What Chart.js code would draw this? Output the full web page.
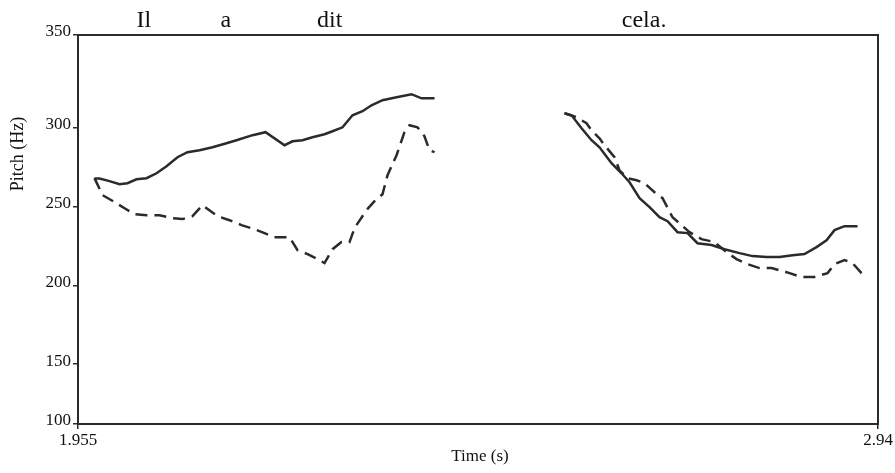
<!DOCTYPE html>
<html>
<head>
<meta charset="utf-8">
<script src="https://cdn.jsdelivr.net/npm/chart.js@4.4.1/dist/chart.umd.min.js"></script>
<style>
  body { margin: 0; background: #fff; }
  canvas { display: block; }
</style>
</head>
<body>
<canvas id="pitchChart" width="895" height="473"></canvas>
<script>
// words of the utterance and where they sit in time
const words = ["Il", "a", "dit", "cela."];
const wordTimes = [2.036, 2.137, 2.265, 2.652];

// solid contour, first and second voiced stretch
const solidTimeA = [1.9753, 1.9815, 1.9938, 2.0061, 2.0159, 2.0270, 2.0393, 2.0517, 2.0640, 2.0775, 2.0898, 2.1046, 2.1206, 2.1378, 2.1502, 2.1699, 2.1859, 2.2093, 2.2191, 2.2314, 2.2437, 2.2585, 2.2684, 2.2807, 2.2930, 2.3053, 2.3164, 2.3299, 2.3472, 2.3656, 2.3779, 2.3940];
const solidPitchA = [267.9, 267.9, 266.2, 264.3, 264.9, 267.4, 268.1, 271.2, 275.7, 281.4, 284.6, 285.8, 287.7, 290.3, 292.2, 295.4, 297.3, 289.0, 291.5, 292.2, 294.1, 296.0, 297.9, 300.4, 308.0, 310.6, 314.4, 317.6, 319.5, 321.4, 318.8, 318.8];
const solidTimeB = [2.5540, 2.5627, 2.5750, 2.5873, 2.5971, 2.6119, 2.6242, 2.6341, 2.6464, 2.6587, 2.6710, 2.6809, 2.6932, 2.7055, 2.7178, 2.7350, 2.7510, 2.7695, 2.7855, 2.8028, 2.8188, 2.8348, 2.8495, 2.8643, 2.8766, 2.8865, 2.8988, 2.9148];
const solidPitchB = [309.3, 308.0, 299.8, 292.2, 287.7, 277.6, 271.2, 265.5, 255.4, 249.7, 243.3, 240.8, 233.8, 233.2, 226.8, 225.6, 223.0, 220.5, 218.6, 218.0, 218.0, 219.2, 219.9, 224.3, 228.7, 235.1, 237.6, 237.6];

// dashed contour
const dashedTimeA = [1.9753, 1.9852, 1.9962, 2.0123, 2.0246, 2.0393, 2.0553, 2.0714, 2.0837, 2.0960, 2.1083, 2.1268, 2.1415, 2.1563, 2.1723, 2.1846, 2.1969, 2.2154, 2.2253, 2.2376, 2.2499, 2.2585, 2.2684, 2.2794, 2.2893, 2.2955, 2.3102, 2.3201, 2.3299, 2.3361, 2.3472, 2.3570, 2.3632, 2.3730, 2.3816, 2.3878, 2.3940];
const dashedPitchA = [268.1, 257.3, 254.1, 249.0, 245.2, 244.6, 244.6, 242.7, 242.1, 244.0, 250.9, 244.0, 241.4, 238.3, 235.7, 233.2, 230.6, 230.6, 222.4, 219.9, 216.7, 214.2, 223.0, 227.5, 227.5, 236.4, 247.8, 253.5, 257.9, 270.0, 282.7, 297.3, 301.7, 300.4, 294.7, 285.8, 284.6];
const dashedTimeB = [2.5540, 2.5688, 2.5811, 2.5873, 2.5971, 2.6033, 2.6156, 2.6217, 2.6316, 2.6427, 2.6525, 2.6648, 2.6747, 2.6870, 2.6981, 2.7079, 2.7227, 2.7387, 2.7535, 2.7658, 2.7794, 2.7941, 2.8089, 2.8274, 2.8458, 2.8618, 2.8779, 2.8865, 2.8988, 2.9086, 2.9197, 2.9234];
const dashedPitchB = [309.3, 306.8, 303.0, 298.5, 293.4, 289.0, 281.4, 273.1, 268.1, 266.8, 264.9, 259.2, 255.4, 243.3, 238.3, 233.8, 229.4, 227.5, 221.1, 216.7, 213.5, 211.0, 211.0, 208.4, 205.3, 205.3, 207.8, 213.5, 216.1, 214.2, 207.8, 207.2];

// axes: the frame runs a bit past the outer labels, as in the figure
const timeTicks = [1.955, 2.94];
const pitchTickValues = [112, 150, 200, 250, 300, 359];
const pitchTickLabels = ["100", "150", "200", "250", "300", "350"];

const ink = "#2b2b2b";
const serif = "'Liberation Serif', 'Times New Roman', serif";

function toPoints(times, pitches) {
    return times.map((t, i) => ({ x: t, y: pitches[i] }));
}

function contour(times, pitches, dashed) {
    return {
        data: toPoints(times, pitches),
        borderColor: ink,
        borderWidth: 2.5,
        borderDash: dashed ? [12, 7] : [],
        pointRadius: 0,
        tension: 0,
        fill: false,
    };
}

const framePlugin = {
    id: "frame",
    afterDatasetsDraw(chart) {
        const { ctx, chartArea } = chart;
        ctx.save();
        ctx.strokeStyle = ink;
        ctx.lineWidth = 2;
        ctx.strokeRect(chartArea.left, chartArea.top, chartArea.right - chartArea.left, chartArea.bottom - chartArea.top);

        // words above the contour
        ctx.fillStyle = "#111";
        ctx.font = "24px " + serif;
        ctx.textAlign = "center";
        ctx.textBaseline = "alphabetic";
        words.forEach((w, i) => {
            ctx.fillText(w, chart.scales.x.getPixelForValue(wordTimes[i]), 27);
        });

        // axis titles
        ctx.font = "17px " + serif;
        ctx.textBaseline = "middle";
        ctx.fillText("Time (s)", 480, 457);
        ctx.translate(18, 154);
        ctx.rotate(-Math.PI / 2);
        ctx.font = "18px " + serif;
        ctx.fillText("Pitch (Hz)", 0, 0);
        ctx.restore();
    }
};

new Chart(document.getElementById("pitchChart"), {
    type: "line",
    data: {
        datasets: [
            contour(solidTimeA, solidPitchA, false),
            contour(solidTimeB, solidPitchB, false),
            contour(dashedTimeA, dashedPitchA, true),
            contour(dashedTimeB, dashedPitchB, true),
        ],
    },
    options: {
        responsive: false,
        animation: false,
        layout: { padding: { left: 0, right: 17, top: 35, bottom: 0 } },
        plugins: {
            legend: { display: false },
            tooltip: { enabled: false },
        },
        scales: {
            x: {
                type: "linear",
                min: timeTicks[0],
                max: timeTicks[1],
                afterBuildTicks: (scale) => {
                    scale.ticks = timeTicks.map((v) => ({ value: v }));
                },
                afterFit: (scale) => { scale.height = 49; },
                border: { display: false },
                grid: { drawOnChartArea: false, drawTicks: true, tickLength: 5, color: ink, lineWidth: 1.5 },
                ticks: {
                    autoSkip: false,
                    maxRotation: 0,
                    padding: 1,
                    color: "#111",
                    font: { family: serif, size: 17 },
                    callback: (value) => String(value),
                },
            },
            y: {
                min: pitchTickValues[0],
                max: pitchTickValues[pitchTickValues.length - 1],
                afterBuildTicks: (scale) => {
                    scale.ticks = pitchTickValues.map((v) => ({ value: v }));
                },
                afterFit: (scale) => { scale.width = 78; },
                border: { display: false },
                grid: { drawOnChartArea: false, drawTicks: true, tickLength: 5, color: ink, lineWidth: 1.5 },
                ticks: {
                    autoSkip: false,
                    padding: 2,
                    labelOffset: -3,
                    color: "#111",
                    font: { family: serif, size: 17 },
                    callback: (value, index) => pitchTickLabels[index],
                },
            },
        },
    },
    plugins: [framePlugin],
});
</script>
</body>
</html>
